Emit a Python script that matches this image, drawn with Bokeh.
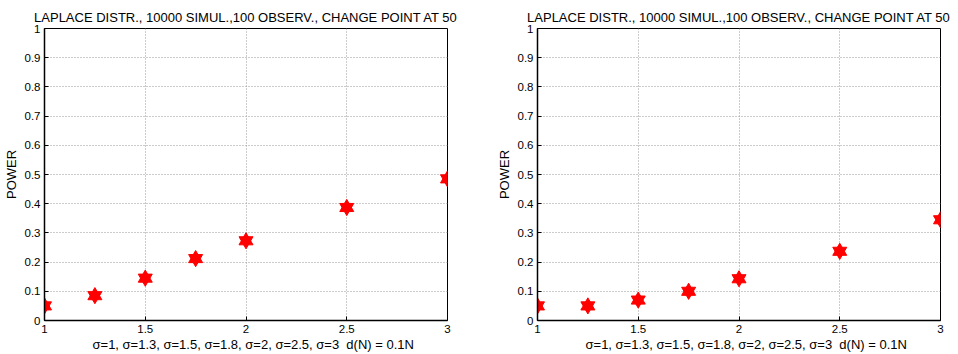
from bokeh.plotting import figure
from bokeh.layouts import row
from bokeh.models import FixedTicker, LinearAxis, Range1d
from bokeh.embed import file_html
from bokeh.resources import INLINE

sigma = [1, 1.25, 1.5, 1.75, 2, 2.5, 3]
power_left = [0.050, 0.085, 0.145, 0.212, 0.273, 0.387, 0.485]
power_right = [0.050, 0.050, 0.070, 0.100, 0.143, 0.237, 0.345]
x_ticks = [1, 1.5, 2, 2.5, 3]
y_ticks = [0, 0.1, 0.2, 0.3, 0.4, 0.5, 0.6, 0.7, 0.8, 0.9, 1]
title_text = "LAPLACE DISTR., 10000 SIMUL.,100 OBSERV., CHANGE POINT AT 50"
xlabel_text = ("\u00a0\u00a0\u00a0\u00a0\u03c3=1, \u03c3=1.3, \u03c3=1.5, \u03c3=1.8, \u03c3=2, "
               "\u03c3=2.5, \u03c3=3\u00a0\u00a0d(N) = 0.1N")
ylabel_text = "POWER"

FONT = "Liberation Sans"
TICK_FS = "11.5px"
LAB_FS = "13px"


def fmt(v):
    return "%g" % v


def make(power, bl, br):
    p = figure(width=479, height=354, output_backend="svg", toolbar_location=None,
               x_range=Range1d(1, 3), y_range=Range1d(0, 1),
               min_border_left=bl, min_border_right=br, min_border_top=28, min_border_bottom=33,
               x_axis_location=None, y_axis_location=None)
    p.background_fill_color = "white"
    p.border_fill_color = "white"
    p.outline_line_color = "black"
    p.outline_line_width = 1
    p.outline_line_alpha = 1

    xa = LinearAxis(ticker=FixedTicker(ticks=x_ticks),
                    major_label_overrides={t: fmt(t) for t in x_ticks},
                    axis_label=xlabel_text)
    ya = LinearAxis(ticker=FixedTicker(ticks=y_ticks),
                    major_label_overrides={t: fmt(t) for t in y_ticks},
                    axis_label=ylabel_text)
    for a in (xa, ya):
        a.major_tick_in = 4
        a.major_tick_out = 0
        a.minor_tick_line_color = None
        a.axis_line_color = "black"
        a.axis_line_width = 1.5
        a.major_tick_line_color = "black"
        a.major_label_text_font = FONT
        a.major_label_text_font_size = TICK_FS
        a.major_label_text_color = "black"
        a.major_label_standoff = 4
        a.axis_label_text_font = FONT
        a.axis_label_text_font_size = LAB_FS
        a.axis_label_text_font_style = "normal"
        a.axis_label_text_color = "black"
    ya.axis_label_standoff = 3
    xa.axis_label_standoff = 1
    p.add_layout(xa, "below")
    p.add_layout(ya, "left")

    p.xgrid.ticker = FixedTicker(ticks=x_ticks)
    p.ygrid.ticker = FixedTicker(ticks=y_ticks)
    for g in (p.xgrid, p.ygrid):
        g.grid_line_color = "#999999"
        g.grid_line_dash = "1 2"
        g.grid_line_width = 1

    p.title.text = title_text
    p.title.align = "center"
    p.title.text_font = FONT
    p.title.text_font_size = LAB_FS
    p.title.text_font_style = "normal"
    p.title.text_color = "black"
    p.title.standoff = 8

    p.scatter(sigma, power, marker="triangle", size=14, fill_color="red", line_color="red")
    p.scatter(sigma, power, marker="inverted_triangle", size=14, fill_color="red", line_color="red")
    return p


p1 = make(power_left, 44, 32)
p2 = make(power_right, 58, 18)
layout = row(p1, p2)
open("out.html", "w").write(file_html(layout, INLINE))
